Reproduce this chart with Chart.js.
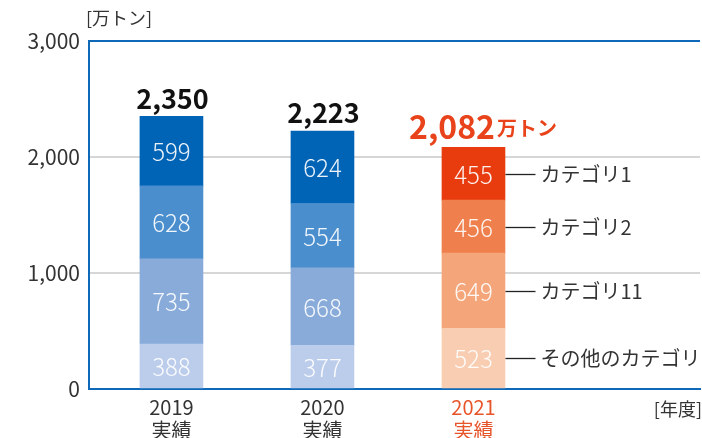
<!DOCTYPE html>
<html lang="ja">
<head>
  <meta charset="UTF-8" />
  <title>実績推移</title>
  <script src="https://cdn.jsdelivr.net/npm/chart.js"></script>
  <style>
    body { margin: 0; background: #fff; }
    .wrap { width: 702px; height: 438px; position: relative; }
  </style>
</head>
<body>
  <div class="wrap"><canvas id="grafico"></canvas></div>

<script>
  const FONTE = "'Noto Sans CJK JP', 'Noto Sans', sans-serif";

  // dados
  const anos = ['2019', '2020', '2021'];
  const outros = [388, 377, 523];
  const cat11 = [735, 668, 649];
  const cat2 = [628, 554, 456];
  const cat1 = [599, 624, 455];
  const totais = [2350, 2223, 2082];
  const nomesSerie = ['その他のカテゴリ', 'カテゴリ11', 'カテゴリ2', 'カテゴリ1'];
  const yTicks = [0, 1000, 2000, 3000];

  const azul = ['#bccdeb', '#89abda', '#4a8ecd', '#0064b6'];
  const laranja = ['#f8cdb1', '#f4a67a', '#ef7f4c', '#e83b0e'];
  const corFrame = '#0f68b8';
  const corLaranjaTexto = '#e8431a';

  function ponto(arr) {
    return arr.map((v, i) => ({ x: i, y: v }));
  }

  const series = [outros, cat11, cat2, cat1];

  const datasets = series.map((s, k) => ({
    label: nomesSerie[k],
    data: ponto(s),
    backgroundColor: s.map((_, i) => i === 2 ? laranja[k] : azul[k]),
    borderWidth: 0,
    barThickness: 63
  }));

  function fmt(v) {
    return v.toLocaleString('en-US');
  }

  const textos = {
    id: 'textos',
    afterDatasetsDraw(chart) {
      const ctx = chart.ctx;
      ctx.save();

      // valores dentro das barras
      ctx.textAlign = 'center';
      ctx.textBaseline = 'middle';
      ctx.font = '300 24px ' + FONTE;
      ctx.fillStyle = 'rgba(255,255,255,0.92)';
      chart.data.datasets.forEach((ds, k) => {
        const meta = chart.getDatasetMeta(k);
        meta.data.forEach((bar, i) => {
          const cy = (bar.y + bar.base) / 2;
          ctx.fillText(String(series[k][i]), bar.x, cy + 1);
        });
      });

      // totais
      const topo = chart.getDatasetMeta(3).data;
      topo.forEach((bar, i) => {
        if (i < 2) {
          ctx.fillStyle = '#111';
          ctx.font = 'bold 27px ' + FONTE;
          ctx.textAlign = 'center';
          ctx.fillText(fmt(totais[i]), bar.x + 1, bar.y - 18);
        } else {
          ctx.fillStyle = corLaranjaTexto;
          ctx.font = 'bold 32px ' + FONTE;
          ctx.textAlign = 'right';
          ctx.fillText(fmt(totais[i]), 495, bar.y - 21);
          ctx.font = 'bold 20px ' + FONTE;
          ctx.textAlign = 'left';
          ctx.fillText('万トン', 497, bar.y - 19);
        }
      });

      // rótulos das séries (à direita da barra 2021)
      ctx.strokeStyle = '#222';
      ctx.lineWidth = 1.3;
      ctx.font = '20px ' + FONTE;
      ctx.fillStyle = '#333';
      ctx.textAlign = 'left';
      chart.data.datasets.forEach((ds, k) => {
        const bar = chart.getDatasetMeta(k).data[2];
        const cy = Math.round((bar.y + bar.base) / 2) + 0.5;
        const x0 = bar.x + 32;
        ctx.beginPath();
        ctx.moveTo(x0, cy);
        ctx.lineTo(x0 + 30, cy);
        ctx.stroke();
        ctx.fillText(nomesSerie[k], x0 + 35, cy);
      });

      // unidades
      ctx.font = '18px ' + FONTE;
      ctx.fillStyle = '#333';
      ctx.textAlign = 'left';
      ctx.fillText('[万トン]', 86, 18);
      ctx.textAlign = 'right';
      ctx.fillText('[年度]', 702, 409);

      ctx.restore();
    }
  };

  new Chart(document.getElementById('grafico'), {
    type: 'bar',
    data: { datasets: datasets },
    options: {
      responsive: true,
      maintainAspectRatio: false,
      animation: false,
      layout: { padding: { top: 41, right: 2, left: 0, bottom: 0 } },
      plugins: {
        legend: { display: false },
        tooltip: { enabled: false }
      },
      scales: {
        x: {
          type: 'linear',
          stacked: true,
          offset: false,
          min: -0.546,
          max: 3.5,
          afterBuildTicks: scale => {
            scale.ticks = anos.map((_, i) => ({ value: i }));
          },
          afterFit: scale => { scale.height = 49; },
          grid: { display: false },
          border: { display: true, color: corFrame, width: 2 },
          ticks: {
            padding: -1,
            autoSkip: false,
            maxRotation: 0,
            font: { family: FONTE, size: 20, lineHeight: 1.15 },
            color: c => c.index === 2 ? '#e8542a' : '#333',
            callback: v => [anos[v], '実績']
          }
        },
        y: {
          stacked: true,
          min: 0,
          max: 3000,
          afterBuildTicks: scale => {
            scale.ticks = yTicks.map(v => ({ value: v }));
          },
          afterFit: scale => { scale.width = 89; },
          border: { display: true, color: corFrame, width: 2 },
          grid: {
            drawTicks: false,
            color: c => (c.tick && (c.tick.value === 3000 || c.tick.value === 0)) ? corFrame : '#d6d6d6',
            lineWidth: 2
          },
          ticks: {
            padding: 9,
            font: { family: FONTE, size: 21 },
            color: '#333',
            callback: v => fmt(v)
          }
        }
      }
    },
    plugins: [textos]
  });
</script>
</body>
</html>
